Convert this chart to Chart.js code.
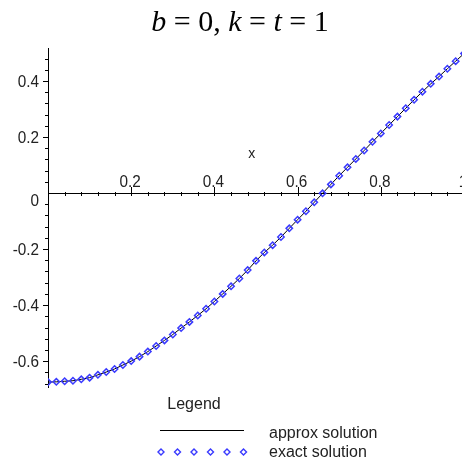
<!DOCTYPE html>
<html>
<head>
<meta charset="utf-8">
<script src="https://cdn.jsdelivr.net/npm/chart.js@4"></script>
<style>
  body { margin: 0; overflow: hidden; background: #fff; }
</style>
</head>
<body>
<canvas id="myChart" width="470" height="467"></canvas>
<script>
// sample points (step 0.02)
const xValues = [0, 0.02, 0.04, 0.06, 0.08, 0.10, 0.12, 0.14, 0.16, 0.18,
  0.20, 0.22, 0.24, 0.26, 0.28, 0.30, 0.32, 0.34, 0.36, 0.38,
  0.40, 0.42, 0.44, 0.46, 0.48, 0.50, 0.52, 0.54, 0.56, 0.58,
  0.60, 0.62, 0.64, 0.66, 0.68, 0.70, 0.72, 0.74, 0.76, 0.78,
  0.80, 0.82, 0.84, 0.86, 0.88, 0.90, 0.92, 0.94, 0.96, 0.98, 1.00];
const approxValues = [-0.675, -0.674, -0.672, -0.670, -0.665, -0.659, -0.649, -0.639, -0.628, -0.614,
  -0.600, -0.584, -0.566, -0.546, -0.526, -0.505, -0.482, -0.460, -0.437, -0.413,
  -0.387, -0.360, -0.333, -0.305, -0.275, -0.242, -0.212, -0.186, -0.157, -0.126,
  -0.095, -0.065, -0.033, -0.001, 0.031, 0.062, 0.092, 0.122, 0.152, 0.183,
  0.213, 0.243, 0.273, 0.303, 0.333, 0.362, 0.390, 0.416, 0.444, 0.471, 0.498];
const exactValues = [-0.675, -0.674, -0.672, -0.670, -0.665, -0.659, -0.649, -0.639, -0.628, -0.614,
  -0.600, -0.584, -0.566, -0.546, -0.526, -0.505, -0.482, -0.460, -0.437, -0.413,
  -0.387, -0.360, -0.333, -0.305, -0.275, -0.242, -0.212, -0.186, -0.157, -0.126,
  -0.095, -0.065, -0.033, -0.001, 0.031, 0.062, 0.092, 0.122, 0.152, 0.183,
  0.213, 0.243, 0.273, 0.303, 0.333, 0.362, 0.390, 0.416, 0.444, 0.471, 0.498];
const xTicks = [0.2, 0.4, 0.6, 0.8, 1];
const yTicks = [-0.6, -0.4, -0.2, 0, 0.2, 0.4];
const seriesLabels = ['approx solution', 'exact solution'];
const titleParts = [['b', true], [' = 0, ', false], ['k', true], [' = ', false], ['t', true], [' = 1', false]];
const axisName = 'x';
const legendTitle = 'Legend';

const labelFont = '16px "Liberation Sans", Arial, sans-serif';
const textColor = '#222';
const exactColor = '#3a3aff';

// draws a label squeezed a little horizontally, like the narrow plot font
function narrowText(ctx, s, x, y, align) {
    const k = 0.9;
    const w = ctx.measureText(s).width * k;
    let left = x;
    if (align === 'center') left = x - w / 2;
    if (align === 'right') left = x - w;
    ctx.save();
    ctx.textAlign = 'left';
    ctx.translate(left, y);
    ctx.scale(k, 1);
    ctx.fillText(s, 0, 0);
    ctx.restore();
}

const mapleAxes = {
    id: 'mapleAxes',
    beforeDatasetsDraw(chart) {
        const ctx = chart.ctx;
        const xs = chart.scales.x, ys = chart.scales.y;
        const x0 = xs.getPixelForValue(0), y0 = ys.getPixelForValue(0);
        const area = chart.chartArea;
        ctx.save();
        ctx.strokeStyle = '#000';
        ctx.lineWidth = 1;
        ctx.beginPath();
        ctx.moveTo(Math.round(x0) + 0.5, area.top);
        ctx.lineTo(Math.round(x0) + 0.5, area.bottom);
        ctx.moveTo(area.left, Math.round(y0) + 0.5);
        ctx.lineTo(chart.width, Math.round(y0) + 0.5);
        // minor ticks every 0.04
        for (let v = 0.04; v <= xs.max + 1e-9; v += 0.04) {
            const px = Math.round(xs.getPixelForValue(v)) + 0.5;
            ctx.moveTo(px, Math.round(y0) - 1);
            ctx.lineTo(px, Math.round(y0) + 3);
        }
        for (let v = -0.68; v <= ys.max + 1e-9; v += 0.04) {
            if (Math.abs(v) < 1e-6) continue;
            const py = Math.round(ys.getPixelForValue(v)) + 0.5;
            ctx.moveTo(Math.round(x0) - 3, py);
            ctx.lineTo(Math.round(x0) + 1, py);
        }
        xTicks.forEach(v => {
            const px = Math.round(xs.getPixelForValue(v)) + 0.5;
            ctx.moveTo(px, Math.round(y0) - 6);
            ctx.lineTo(px, Math.round(y0) + 3);
        });
        yTicks.forEach(v => {
            if (v === 0) return;
            const py = Math.round(ys.getPixelForValue(v)) + 0.5;
            ctx.moveTo(Math.round(x0) - 5, py);
            ctx.lineTo(Math.round(x0) + 1, py);
        });
        ctx.stroke();

        ctx.fillStyle = textColor;
        ctx.font = '17px "Liberation Sans", Arial, sans-serif';
        ctx.textBaseline = 'alphabetic';
        xTicks.forEach(v => {
            narrowText(ctx, String(v), xs.getPixelForValue(v) - 1, y0 - 6, 'center');
        });
        ctx.textBaseline = 'middle';
        yTicks.forEach(v => {
            const py = ys.getPixelForValue(v) + (v === 0 ? 8 : 1);
            narrowText(ctx, String(v), x0 - 9, py, 'right');
        });
        ctx.font = '14px "Liberation Sans", Arial, sans-serif';
        ctx.textAlign = 'center';
        ctx.fillText(axisName, xs.getPixelForValue(0.49), y0 - 39);
        ctx.restore();
    },
    afterDraw(chart) {
        const ctx = chart.ctx;
        ctx.save();
        // title with italic variables
        ctx.fillStyle = '#000';
        ctx.textBaseline = 'alphabetic';
        ctx.textAlign = 'left';
        const fonts = it => (it ? 'italic ' : '') + '30px "Liberation Serif", "Times New Roman", serif';
        let total = 0;
        titleParts.forEach(([s, it]) => { ctx.font = fonts(it); total += ctx.measureText(s).width; });
        let tx = 240 - total / 2;
        titleParts.forEach(([s, it]) => { ctx.font = fonts(it); ctx.fillText(s, tx, 31); tx += ctx.measureText(s).width; });

        // legend
        ctx.font = labelFont;
        ctx.fillStyle = textColor;
        ctx.textAlign = 'center';
        ctx.textBaseline = 'middle';
        ctx.fillText(legendTitle, 194, 405);
        ctx.textAlign = 'left';
        const ds = chart.data.datasets;
        ctx.fillText(ds[0].label, 269, 434);
        ctx.fillText(ds[1].label, 269, 453);
        ctx.strokeStyle = ds[0].borderColor;
        ctx.lineWidth = 1;
        ctx.beginPath();
        ctx.moveTo(160, 430.5);
        ctx.lineTo(244, 430.5);
        ctx.stroke();
        ctx.strokeStyle = ds[1].borderColor;
        ctx.lineWidth = 1.4;
        for (let i = 0; i < 6; i++) {
            const cx = 161 + i * 16.5, cy = 452;
            ctx.beginPath();
            ctx.moveTo(cx, cy - 3);
            ctx.lineTo(cx + 3, cy);
            ctx.lineTo(cx, cy + 3);
            ctx.lineTo(cx - 3, cy);
            ctx.closePath();
            ctx.stroke();
        }
        ctx.restore();
    }
};

const ctx = document.getElementById('myChart').getContext('2d');
const myChart = new Chart(ctx, {
    type: 'line',
    data: {
        datasets: [{
            label: seriesLabels[0],
            data: xValues.map((x, i) => ({ x: x, y: approxValues[i] })),
            borderColor: '#000',
            borderWidth: 1,
            pointRadius: 0,
            tension: 0,
            order: 2
        }, {
            label: seriesLabels[1],
            data: xValues.map((x, i) => ({ x: x, y: exactValues[i] })),
            showLine: false,
            borderColor: exactColor,
            backgroundColor: 'rgba(0,0,0,0)',
            pointStyle: 'rectRot',
            pointRadius: 3.2,
            pointBorderWidth: 1.5,
            order: 1
        }]
    },
    options: {
        responsive: false,
        animation: false,
        layout: { padding: { left: 48, top: 48, right: 6, bottom: 79 } },
        plugins: {
            legend: { display: false },
            tooltip: { enabled: false }
        },
        scales: {
            x: { type: 'linear', min: 0, max: 1, display: false },
            y: { type: 'linear', min: -0.696, max: 0.518, display: false }
        }
    },
    plugins: [mapleAxes]
});
</script>
</body>
</html>
